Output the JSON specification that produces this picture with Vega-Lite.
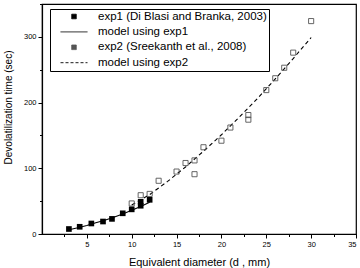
{
  "$schema": "https://vega.github.io/schema/vega-lite/v6.json",
  "width": 314,
  "height": 230,
  "autosize": {"type": "none"},
  "padding": {"left": 42, "top": 4, "right": 4, "bottom": 34},
  "config": {
    "font": "Liberation Sans",
    "view": {"stroke": "black", "strokeWidth": 1.2},
    "axis": {
      "grid": false,
      "domainColor": "black",
      "domainWidth": 1.2,
      "tickColor": "black",
      "labelColor": "black",
      "labelFontSize": 7.5,
      "titleColor": "black",
      "titleFontWeight": "normal"
    }
  },
  "datasets": {
    "exp1": [
      {"d": 3, "t": 7.6}, {"d": 4.2, "t": 11}, {"d": 5.5, "t": 16}, {"d": 6.8, "t": 19},
      {"d": 7.8, "t": 23}, {"d": 9, "t": 31.5}, {"d": 10, "t": 37.5}, {"d": 11, "t": 43},
      {"d": 11, "t": 49}, {"d": 12, "t": 52}
    ],
    "exp2": [
      {"d": 10, "t": 46.5}, {"d": 11, "t": 59}, {"d": 12, "t": 61}, {"d": 13, "t": 81},
      {"d": 15, "t": 95}, {"d": 16, "t": 108}, {"d": 17, "t": 112}, {"d": 17, "t": 91},
      {"d": 18, "t": 132}, {"d": 20, "t": 142}, {"d": 21, "t": 162}, {"d": 23, "t": 174},
      {"d": 23, "t": 181}, {"d": 25, "t": 219}, {"d": 26, "t": 237}, {"d": 27, "t": 253},
      {"d": 28, "t": 276}, {"d": 30, "t": 324}
    ],
    "model1": [
      {"d": 3, "t": 6.5}, {"d": 4, "t": 9.5}, {"d": 5, "t": 13}, {"d": 6, "t": 17},
      {"d": 7, "t": 21}, {"d": 8, "t": 25.5}, {"d": 9, "t": 30.5}, {"d": 10, "t": 36},
      {"d": 11, "t": 42}, {"d": 12, "t": 48.5}
    ],
    "model2": [
      {"d": 10, "t": 44}, {"d": 12, "t": 60}, {"d": 14, "t": 80}, {"d": 16, "t": 102},
      {"d": 18, "t": 126}, {"d": 20, "t": 151}, {"d": 22, "t": 178}, {"d": 24, "t": 206},
      {"d": 26, "t": 236}, {"d": 28, "t": 267}, {"d": 30, "t": 299}
    ]
  },
  "resolve": {"axis": {"x": "independent", "y": "independent"}},
  "layer": [
    {
      "data": {"name": "model1"},
      "transform": [{"calculate": "'model using exp1'", "as": "series"}],
      "mark": {"type": "line", "strokeWidth": 1.1},
      "encoding": {
        "x": {
          "field": "d", "type": "quantitative",
          "scale": {"domain": [0, 35], "nice": false},
          "axis": {
            "orient": "bottom",
            "title": "Equivalent diameter (d   , mm)",
            "titleFontSize": 11,
            "values": [5, 10, 15, 20, 25, 30, 35],
            "tickSize": 4,
            "labelPadding": 2,
            "titlePadding": 9
          }
        },
        "y": {
          "field": "t", "type": "quantitative",
          "scale": {"domain": [0, 350], "nice": false},
          "axis": {
            "orient": "left",
            "title": "Devolatilization time (sec)",
            "titleFontSize": 10,
            "titleY": 103,
            "values": [0, 100, 200, 300],
            "tickSize": 4,
            "labelPadding": 2,
            "titlePadding": 10
          }
        },
        "color": {
          "field": "series",
          "type": "nominal",
          "scale": {
            "domain": ["exp1 (Di Blasi and Branka, 2003)", "model using exp1", "exp2 (Sreekanth et al., 2008)", "model using exp2"],
            "range": ["black", "black", "#555555", "black"]
          },
          "legend": {
            "title": null,
            "orient": "none",
            "legendX": 8,
            "legendY": 5,
            "strokeColor": "black",
            "padding": 2,
            "labelFont": "Liberation Sans",
            "labelFontSize": 11.5,
            "labelColor": "black",
            "labelLimit": 400,
            "labelOffset": 10,
            "symbolSize": 729,
            "symbolOffset": 8,
            "clipHeight": 11,
            "rowPadding": 3.4,
            "symbolStrokeWidth": 0.9,
            "symbolOpacity": 1,
            "symbolType": {"expr": "indexof(datum.value, 'model') == 0 ? 'stroke' : 'M-0.17,-0.17H0.17V0.17H-0.17Z'"},
            "symbolFillColor": {"expr": "indexof(datum.value, 'exp1') == 0 ? 'black' : 'transparent'"},
            "symbolStrokeColor": {"expr": "indexof(datum.value, 'exp2') == 0 ? '#555555' : 'black'"},
            "symbolDash": {"expr": "datum.value == 'model using exp2' ? [3, 2] : [1, 0]"}
          }
        }
      }
    },
    {
      "data": {"name": "model2"},
      "transform": [{"calculate": "'model using exp2'", "as": "series"}],
      "mark": {"type": "line", "strokeDash": [4, 3], "strokeWidth": 1.1},
      "encoding": {
        "x": {
          "field": "d", "type": "quantitative",
          "axis": {
            "orient": "bottom", "title": null, "labels": false, "domain": false,
            "values": [2.5, 7.5, 12.5, 17.5, 22.5, 27.5, 32.5], "tickSize": 2.5
          }
        },
        "y": {
          "field": "t", "type": "quantitative",
          "axis": {
            "orient": "left", "title": null, "labels": false, "domain": false,
            "values": [50, 150, 250, 350], "tickSize": 2.5
          }
        },
        "color": {"field": "series", "type": "nominal", "legend": null}
      }
    },
    {
      "data": {"name": "exp2"},
      "transform": [{"calculate": "'exp2 (Sreekanth et al., 2008)'", "as": "series"}],
      "mark": {"type": "point", "shape": "square", "filled": false, "size": 26, "strokeWidth": 0.9, "opacity": 1},
      "encoding": {
        "x": {"field": "d", "type": "quantitative", "axis": null},
        "y": {"field": "t", "type": "quantitative", "axis": null},
        "color": {"field": "series", "type": "nominal", "legend": null}
      }
    },
    {
      "data": {"name": "exp1"},
      "transform": [{"calculate": "'exp1 (Di Blasi and Branka, 2003)'", "as": "series"}],
      "mark": {"type": "square", "size": 32, "opacity": 1},
      "encoding": {
        "x": {"field": "d", "type": "quantitative", "axis": null},
        "y": {"field": "t", "type": "quantitative", "axis": null},
        "color": {"field": "series", "type": "nominal", "legend": null}
      }
    }
  ]
}
